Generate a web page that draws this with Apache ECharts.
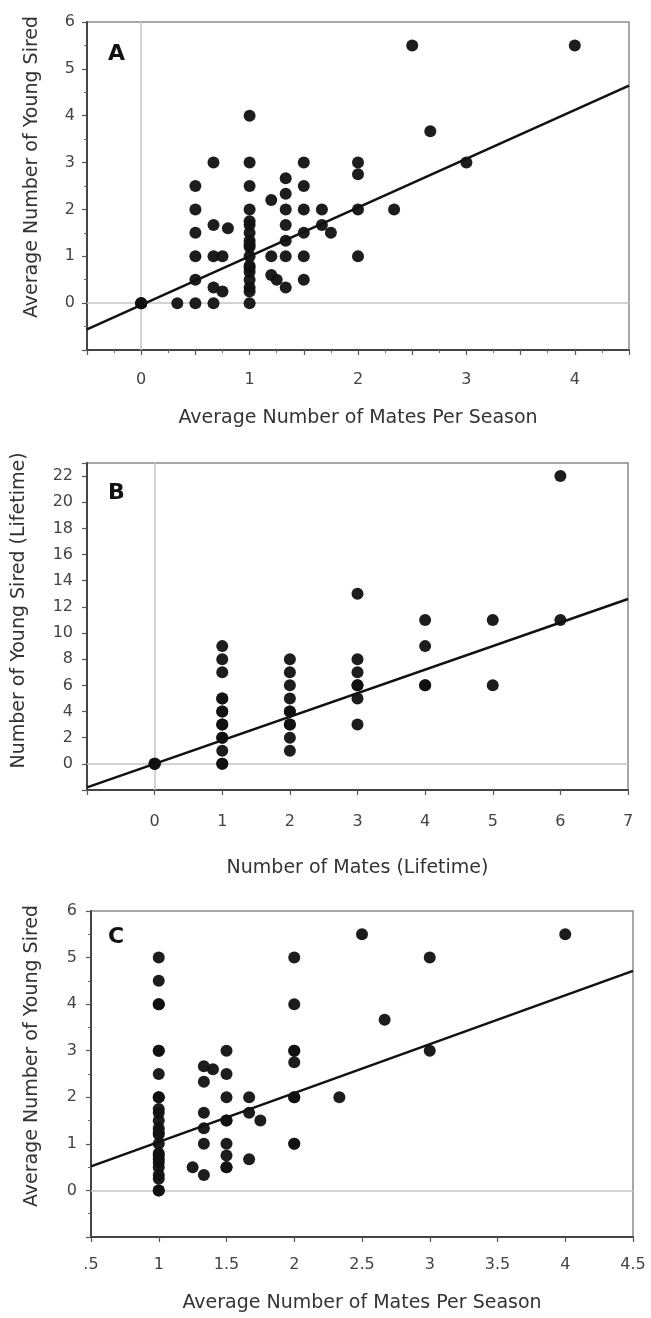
<!DOCTYPE html>
<html><head><meta charset="utf-8">
<script src="https://cdn.jsdelivr.net/npm/echarts@6/dist/echarts.min.js"></script>
<style>html,body{margin:0;padding:0;background:#fff}#c{width:651px;height:1318px}</style>
</head><body><div id="c"></div>
<script>
// Panel A: average mates per season vs average young sired
const pointsA = [
 [0,0],[0,0],[0,0],
 [0.333,0],
 [0.5,0],[0.5,0.5],[0.5,1],[0.5,1.5],[0.5,2],[0.5,2.5],
 [0.667,0],[0.667,0.333],[0.667,1],[0.667,1.667],[0.667,3],
 [0.75,0.25],[0.75,1],[0.8,1.6],
 [1,0],[1,0.25],[1,0.333],[1,0.5],[1,0.667],[1,0.75],[1,0.8],[1,1],[1,1.2],[1,1.25],[1,1.333],[1,1.5],[1,1.667],[1,1.75],[1,2],[1,2.5],[1,3],[1,4],
 [1.2,2.2],[1.2,1],[1.2,0.6],[1.25,0.5],
 [1.333,0.333],[1.333,1],[1.333,1.333],[1.333,1.667],[1.333,2],[1.333,2.333],[1.333,2.667],
 [1.5,0.5],[1.5,1],[1.5,1.5],[1.5,2],[1.5,2.5],[1.5,3],
 [1.667,1.667],[1.667,2],[1.75,1.5],
 [2,1],[2,2],[2,2.75],[2,3],
 [2.333,2],[2.5,5.5],[2.667,3.667],[3,3],[4,5.5]
];
// Panel B: lifetime mates vs lifetime young sired
const pointsB = [
 [0,0],[0,0],[0,0],
 [1,0],[1,0],[1,1],[1,2],[1,2],[1,3],[1,3],[1,4],[1,4],[1,5],[1,5],[1,7],[1,8],[1,9],
 [2,1],[2,2],[2,3],[2,3],[2,4],[2,4],[2,5],[2,6],[2,7],[2,8],
 [3,3],[3,5],[3,6],[3,6],[3,7],[3,8],[3,13],
 [4,6],[4,6],[4,9],[4,11],
 [5,6],[5,11],
 [6,11],[6,22]
];
// Panel C: average mates per season vs average young sired (mated males)
const pointsC = [
 [1,0],[1,0],[1,0.25],[1,0.333],[1,0.5],[1,0.6],[1,0.667],[1,0.75],[1,0.8],[1,1],[1,1.2],[1,1.25],[1,1.333],[1,1.5],[1,1.667],[1,1.75],[1,2],[1,2],[1,2.5],[1,3],[1,3],[1,4],[1,4],[1,4.5],[1,5],
 [1.25,0.5],
 [1.333,0.333],[1.333,1],[1.333,1.333],[1.333,1.667],[1.333,2.333],[1.333,2.667],[1.4,2.6],
 [1.5,0.5],[1.5,0.5],[1.5,0.75],[1.5,1],[1.5,1.5],[1.5,1.5],[1.5,2],[1.5,2.5],[1.5,3],
 [1.667,0.667],[1.667,1.667],[1.667,2],[1.75,1.5],
 [2,1],[2,1],[2,2],[2,2],[2,2.75],[2,3],[2,3],[2,4],[2,5],
 [2.333,2],[2.5,5.5],[2.667,3.667],[3,3],[3,5],[4,5.5]
];
// Regression lines [intercept, slope]
const fitA = [-0.04, 1.04];
const fitB = [0, 1.8];
const fitC = [-0.01, 1.05];
// Axis ranges and names
const panelLetters = ['A','B','C'];
const xNames = ['Average Number of Mates Per Season','Number of Mates (Lifetime)','Average Number of Mates Per Season'];
const yNames = ['Average Number of Young Sired','Number of Young Sired (Lifetime)','Average Number of Young Sired'];
const xRanges = [[-0.5,4.5,0.5],[-1,7,1],[0.5,4.5,0.5]];
const yRanges = [[-1,6,1],[-2,23,2],[-1,6,1]];

const FONT = 'DejaVu Sans, sans-serif';
const grids = [
 {left:87, top:22, width:542, height:328},
 {left:87, top:463, width:541, height:327},
 {left:91, top:911, width:542, height:326}
];
const chart = echarts.init(document.getElementById('c'));

const xFormatters = [
 v => Number.isInteger(v) ? String(v) : '',
 v => v < 0 ? '' : String(v),
 v => String(v).replace(/^0\./,'.')
];
const yFormatters = [
 v => v < 0 ? '' : String(v),
 v => (v < 0 || v > 22) ? '' : String(v),
 v => v < 0 ? '' : String(v)
];
const xLabelMargin = [22, 24, 20];
const xNameGap = [59, 69, 57];
const yNameGap = [45, 58, 49];
const yNameShift = [38, 32, 36];
const yLabelMargin = [12, 14, 14];

const xAxes = [], yAxes = [], series = [], titles = [];
const datasets = [pointsA, pointsB, pointsC];
const fits = [fitA, fitB, fitC];
const letterTops = [38, 477, 921];
for (let i = 0; i < 3; i++) {
  xAxes.push({
    type:'value', gridIndex:i, min:xRanges[i][0], max:xRanges[i][1], interval:xRanges[i][2],
    name:xNames[i], nameLocation:'middle', nameGap:xNameGap[i],
    nameTextStyle:{fontFamily:FONT, fontSize:19, color:'#333'},
    axisLine:{show:true, onZero:false, lineStyle:{color:'#444', width:2}},
    axisTick:{show:true, length:5, lineStyle:{color:'#555', width:1.2}},
    minorTick:{show: i===0, splitNumber:2, length:3, lineStyle:{color:'#666'}},
    axisLabel:{fontFamily:FONT, fontSize:16, color:'#444', margin:xLabelMargin[i], formatter:xFormatters[i], showMinLabel:true, showMaxLabel:true},
    splitLine:{show:false}
  });
  yAxes.push({
    type:'value', gridIndex:i, min:yRanges[i][0], max:yRanges[i][1], interval:yRanges[i][2],
    name:yNames[i], nameLocation:'middle', nameGap:yNameGap[i],
    nameTextStyle:{fontFamily:FONT, fontSize:19, color:'#333', padding:[0,0,0,yNameShift[i]]},
    axisLine:{show:true, onZero:false, lineStyle:{color:'#444', width:2}},
    axisTick:{show:true, length:5, lineStyle:{color:'#555', width:1.2}},
    minorTick:{show: i!==1, splitNumber:2, length:3, lineStyle:{color:'#666'}},
    axisLabel:{fontFamily:FONT, fontSize:16, color:'#444', margin:yLabelMargin[i], formatter:yFormatters[i]},
    splitLine:{show:false}
  });
  const refs = [{yAxis:0}];
  if (xRanges[i][0] < 0) refs.push({xAxis:0});
  series.push({
    type:'scatter', xAxisIndex:i, yAxisIndex:i, data:datasets[i], symbolSize:12,
    itemStyle:{color:'#111', opacity:0.95}, z:3,
    markLine:{silent:true, symbol:'none', label:{show:false}, animation:false,
      lineStyle:{color:'#c4c4c4', width:1.5, type:'solid'}, data:refs, z:1}
  });
  const x0 = xRanges[i][0], x1 = xRanges[i][1];
  series.push({
    type:'line', xAxisIndex:i, yAxisIndex:i, symbol:'none', z:4, clip:true,
    data:[[x0, fits[i][0]+fits[i][1]*x0],[x1, fits[i][0]+fits[i][1]*x1]],
    lineStyle:{color:'#111', width:2.5}
  });
  titles.push({text:panelLetters[i], left:103, top:letterTops[i], textStyle:{fontFamily:FONT, fontSize:22, fontWeight:'bold', color:'#111'}});
}
chart.setOption({
  animation:false,
  title:titles,
  grid:grids.map(g => Object.assign({show:true, borderColor:'#8a8a8a', borderWidth:1.5, backgroundColor:'#fff'}, g)),
  xAxis:xAxes, yAxis:yAxes, series:series
});
</script></body></html>
